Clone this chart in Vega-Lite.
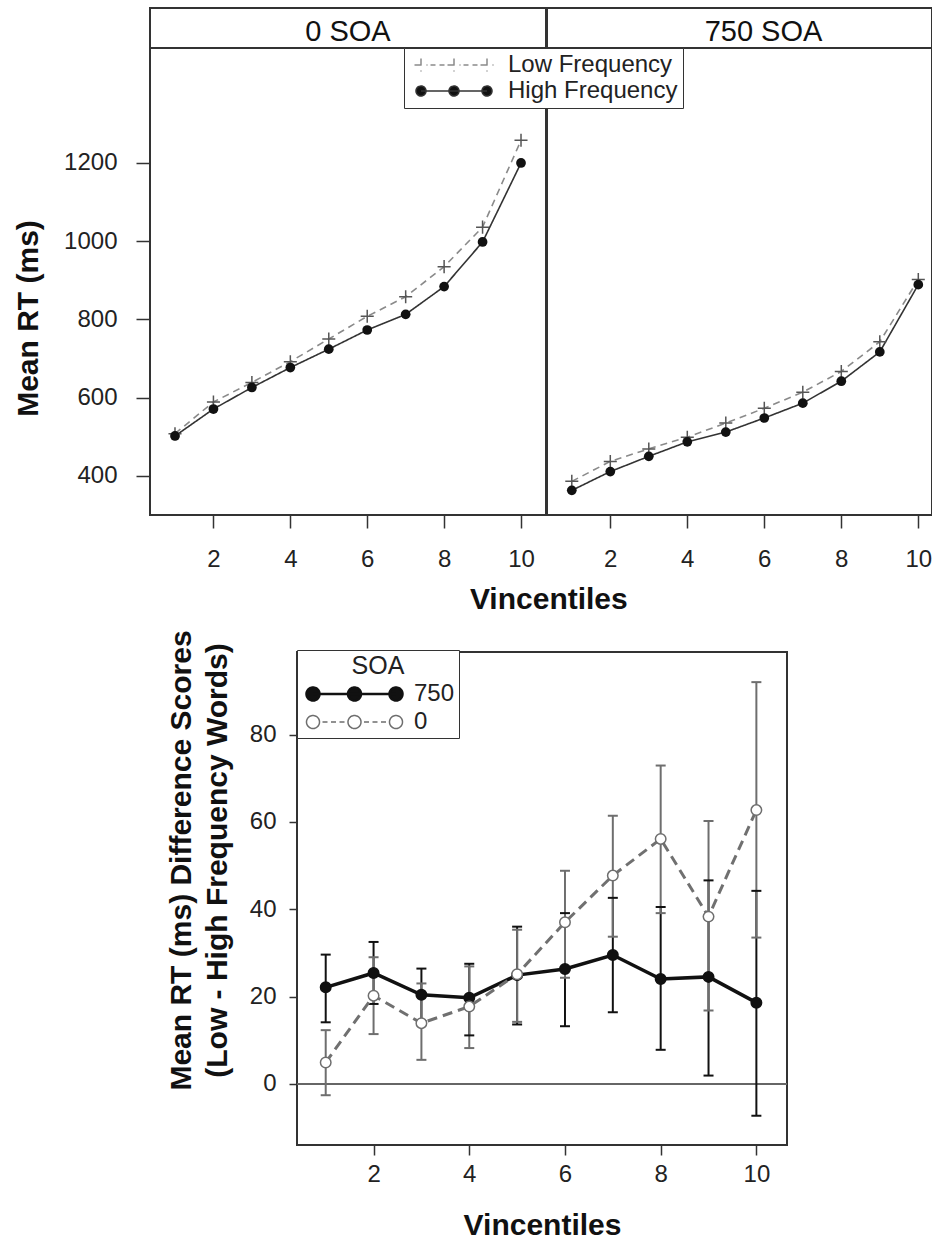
{
  "$schema": "https://vega.github.io/schema/vega-lite/v6.json",
  "background": "white",
  "padding": {"left": 12, "top": 7, "right": 0, "bottom": 0},
  "spacing": 13,
  "datasets": {
    "rt": [
      {"v": 1, "soa": "0 SOA", "freq": "Low Frequency", "rt": 508},
      {"v": 2, "soa": "0 SOA", "freq": "Low Frequency", "rt": 589},
      {"v": 3, "soa": "0 SOA", "freq": "Low Frequency", "rt": 639},
      {"v": 4, "soa": "0 SOA", "freq": "Low Frequency", "rt": 692},
      {"v": 5, "soa": "0 SOA", "freq": "Low Frequency", "rt": 750},
      {"v": 6, "soa": "0 SOA", "freq": "Low Frequency", "rt": 808},
      {"v": 7, "soa": "0 SOA", "freq": "Low Frequency", "rt": 858},
      {"v": 8, "soa": "0 SOA", "freq": "Low Frequency", "rt": 935},
      {"v": 9, "soa": "0 SOA", "freq": "Low Frequency", "rt": 1036},
      {"v": 10, "soa": "0 SOA", "freq": "Low Frequency", "rt": 1258},
      {"v": 1, "soa": "0 SOA", "freq": "High Frequency", "rt": 502},
      {"v": 2, "soa": "0 SOA", "freq": "High Frequency", "rt": 571},
      {"v": 3, "soa": "0 SOA", "freq": "High Frequency", "rt": 626},
      {"v": 4, "soa": "0 SOA", "freq": "High Frequency", "rt": 677},
      {"v": 5, "soa": "0 SOA", "freq": "High Frequency", "rt": 724},
      {"v": 6, "soa": "0 SOA", "freq": "High Frequency", "rt": 773},
      {"v": 7, "soa": "0 SOA", "freq": "High Frequency", "rt": 813},
      {"v": 8, "soa": "0 SOA", "freq": "High Frequency", "rt": 884},
      {"v": 9, "soa": "0 SOA", "freq": "High Frequency", "rt": 998},
      {"v": 10, "soa": "0 SOA", "freq": "High Frequency", "rt": 1200},
      {"v": 1, "soa": "750 SOA", "freq": "Low Frequency", "rt": 386},
      {"v": 2, "soa": "750 SOA", "freq": "Low Frequency", "rt": 437},
      {"v": 3, "soa": "750 SOA", "freq": "Low Frequency", "rt": 469},
      {"v": 4, "soa": "750 SOA", "freq": "Low Frequency", "rt": 499},
      {"v": 5, "soa": "750 SOA", "freq": "Low Frequency", "rt": 535},
      {"v": 6, "soa": "750 SOA", "freq": "Low Frequency", "rt": 573},
      {"v": 7, "soa": "750 SOA", "freq": "Low Frequency", "rt": 614},
      {"v": 8, "soa": "750 SOA", "freq": "Low Frequency", "rt": 667},
      {"v": 9, "soa": "750 SOA", "freq": "Low Frequency", "rt": 743},
      {"v": 10, "soa": "750 SOA", "freq": "Low Frequency", "rt": 902},
      {"v": 1, "soa": "750 SOA", "freq": "High Frequency", "rt": 363},
      {"v": 2, "soa": "750 SOA", "freq": "High Frequency", "rt": 411},
      {"v": 3, "soa": "750 SOA", "freq": "High Frequency", "rt": 450},
      {"v": 4, "soa": "750 SOA", "freq": "High Frequency", "rt": 487},
      {"v": 5, "soa": "750 SOA", "freq": "High Frequency", "rt": 512},
      {"v": 6, "soa": "750 SOA", "freq": "High Frequency", "rt": 548},
      {"v": 7, "soa": "750 SOA", "freq": "High Frequency", "rt": 586},
      {"v": 8, "soa": "750 SOA", "freq": "High Frequency", "rt": 642},
      {"v": 9, "soa": "750 SOA", "freq": "High Frequency", "rt": 717},
      {"v": 10, "soa": "750 SOA", "freq": "High Frequency", "rt": 889}
    ],
    "diff": [
      {"v": 1, "soa": "750", "m": 22.1, "lo": 14.1, "hi": 29.6},
      {"v": 2, "soa": "750", "m": 25.4, "lo": 18.3, "hi": 32.5},
      {"v": 3, "soa": "750", "m": 20.4, "lo": 14.4, "hi": 26.4},
      {"v": 4, "soa": "750", "m": 19.7, "lo": 11.1, "hi": 27.5},
      {"v": 5, "soa": "750", "m": 24.9, "lo": 13.6, "hi": 36.0},
      {"v": 6, "soa": "750", "m": 26.3, "lo": 13.2, "hi": 39.1},
      {"v": 7, "soa": "750", "m": 29.5, "lo": 16.4, "hi": 42.6},
      {"v": 8, "soa": "750", "m": 24.0, "lo": 7.8, "hi": 40.5},
      {"v": 9, "soa": "750", "m": 24.5, "lo": 1.9, "hi": 46.6},
      {"v": 10, "soa": "750", "m": 18.6, "lo": -7.3, "hi": 44.2},
      {"v": 1, "soa": "0", "m": 4.9, "lo": -2.6, "hi": 12.3},
      {"v": 2, "soa": "0", "m": 20.2, "lo": 11.4, "hi": 29.0},
      {"v": 3, "soa": "0", "m": 13.9, "lo": 5.5, "hi": 23.0},
      {"v": 4, "soa": "0", "m": 17.7, "lo": 8.2, "hi": 26.9},
      {"v": 5, "soa": "0", "m": 25.1, "lo": 14.2, "hi": 35.3},
      {"v": 6, "soa": "0", "m": 37.0, "lo": 24.3, "hi": 48.8},
      {"v": 7, "soa": "0", "m": 47.7, "lo": 33.7, "hi": 61.4},
      {"v": 8, "soa": "0", "m": 56.1, "lo": 39.1, "hi": 72.9},
      {"v": 9, "soa": "0", "m": 38.3, "lo": 16.8, "hi": 60.2},
      {"v": 10, "soa": "0", "m": 62.7, "lo": 33.5, "hi": 92.0}
    ]
  },
  "config": {
    "font": "Liberation Sans",
    "view": {"stroke": "#333", "strokeWidth": 2},
    "axis": {
      "domain": false, "grid": false, "tickColor": "#333", "tickWidth": 1.5,
      "labelFont": "Liberation Sans", "labelFontSize": 24, "labelColor": "#222",
      "titleFont": "Liberation Sans", "titleFontSize": 30, "titleFontWeight": "bold", "titleColor": "#111",
      "labelFlush": false, "labelOverlap": false
    },
    "legend": {"labelFont": "Liberation Sans", "titleFont": "Liberation Sans", "labelLimit": 400},
    "title": {"font": "Liberation Sans", "fontSize": 30, "fontWeight": "bold", "color": "#111"},
    "text": {"font": "Liberation Sans"}
  },
  "vconcat": [
    {
      "title": {"text": "Vincentiles", "orient": "bottom", "anchor": "middle", "frame": "bounds", "dx": 76, "offset": 13},
      "spacing": -4,
      "hconcat": [
        {
          "bounds": "flush",
          "spacing": 0,
          "vconcat": [
            {
              "width": 396, "height": 40,
              "view": {"stroke": null},
              "data": {"values": [{"label": "0 SOA"}]},
              "layer": [
                {
                  "mark": {"type": "rect", "fill": "white", "stroke": "#333", "strokeWidth": 2},
                  "encoding": {
                    "x": {"datum": 0, "type": "quantitative", "scale": {"domain": [0, 1], "nice": false, "zero": false}, "axis": null},
                    "x2": {"datum": 1},
                    "y": {"datum": 0, "type": "quantitative", "scale": {"domain": [0, 1], "nice": false, "zero": false}, "axis": null},
                    "y2": {"datum": 1}
                  }
                },
                {
                  "mark": {"type": "text", "fontSize": 29, "color": "#111", "baseline": "middle", "dy": 4},
                  "encoding": {"text": {"field": "label", "type": "nominal"}}
                }
              ]
            },
            {
              "width": 396, "height": 467,
              "data": {"name": "rt"},
              "transform": [{"filter": "datum.soa === '0 SOA'"}],
              "layer": [
                {
                  "mark": {"type": "line", "strokeWidth": 1.6},
                  "encoding": {
                    "x": {"field": "v", "type": "quantitative", "scale": {"domain": [0.35, 10.65], "nice": false, "zero": false},
                      "axis": {"values": [2, 4, 6, 8, 10], "title": null, "tickSize": 13, "labelPadding": 19}},
                    "y": {"field": "rt", "type": "quantitative", "scale": {"domain": [300, 1494], "nice": false, "zero": false},
                      "axis": {"values": [400, 600, 800, 1000, 1200], "format": "d", "title": "Mean RT (ms)", "tickSize": 14, "labelPadding": 19, "titlePadding": 20, "titleY": 270}},
                    "color": {"field": "freq", "type": "nominal",
                      "scale": {"domain": ["Low Frequency", "High Frequency"], "range": ["#8a8a8a", "#333333"]},
                      "legend": {
                        "orient": "none", "legendX": 254, "legendY": 40, "title": null, "direction": "vertical",
                        "padding": 5, "rowPadding": 2, "labelFontSize": 24, "labelOffset": 75, "labelColor": "#222", "labelLimit": 400,
                        "strokeColor": "#333", "fillColor": "white", "symbolSize": 400, "symbolStrokeWidth": 1.5,
                        "encode": {"symbols": {"update": {
                          "shape": {"signal": "datum.value === 'Low Frequency' ? 'M-0.65,0L0.65,0M0,-0.65L0,0.65M0.95,0L1.45,0M1.85,0L2.35,0M2.65,0L3.95,0M3.3,-0.65L3.3,0.65M4.25,0L4.75,0M5.15,0L5.65,0M5.95,0L7.25,0M6.6,-0.65L6.6,0.65' : 'M0,0L6.6,0M-0.5,0A0.5,0.5 0 1 0 0.5,0A0.5,0.5 0 1 0 -0.5,0ZM2.8,0A0.5,0.5 0 1 0 3.8,0A0.5,0.5 0 1 0 2.8,0ZM6.1,0A0.5,0.5 0 1 0 7.1,0A0.5,0.5 0 1 0 6.1,0Z'"},
                          "fill": {"signal": "datum.value === 'Low Frequency' ? 'transparent' : '#111'"},
                          "stroke": {"signal": "datum.value === 'Low Frequency' ? '#666' : '#333'"},
                          "strokeWidth": {"value": 1.5},
                          "strokeDash": {"value": [1, 0]},
                          "size": {"value": 400},
                          "opacity": {"value": 1}
                        }}}
                      }},
                    "strokeDash": {"field": "freq", "type": "nominal",
                      "scale": {"domain": ["Low Frequency", "High Frequency"], "range": [[7, 5], [1, 0]]}, "legend": null}
                  }
                },
                {
                  "transform": [{"filter": "datum.freq === 'Low Frequency'"}],
                  "mark": {"type": "point", "shape": "M-1,0L1,0M0,-1L0,1", "filled": false, "stroke": "#555", "strokeWidth": 1.5, "size": 170, "opacity": 1},
                  "encoding": {"x": {"field": "v", "type": "quantitative"}, "y": {"field": "rt", "type": "quantitative"}}
                },
                {
                  "transform": [{"filter": "datum.freq === 'High Frequency'"}],
                  "mark": {"type": "point", "shape": "circle", "filled": true, "fill": "#111", "size": 95, "opacity": 1},
                  "encoding": {"x": {"field": "v", "type": "quantitative"}, "y": {"field": "rt", "type": "quantitative"}}
                }
              ]
            }
          ]
        },
        {
          "bounds": "flush",
          "spacing": 0,
          "vconcat": [
            {
              "width": 385, "height": 40,
              "view": {"stroke": null},
              "data": {"values": [{"label": "750 SOA"}]},
              "layer": [
                {
                  "mark": {"type": "rect", "fill": "white", "stroke": "#333", "strokeWidth": 2},
                  "encoding": {
                    "x": {"datum": 0, "type": "quantitative", "scale": {"domain": [0, 1], "nice": false, "zero": false}, "axis": null},
                    "x2": {"datum": 1},
                    "y": {"datum": 0, "type": "quantitative", "scale": {"domain": [0, 1], "nice": false, "zero": false}, "axis": null},
                    "y2": {"datum": 1}
                  }
                },
                {
                  "mark": {"type": "text", "fontSize": 29, "color": "#111", "baseline": "middle", "dy": 4, "dx": 24},
                  "encoding": {"text": {"field": "label", "type": "nominal"}}
                }
              ]
            },
            {
              "width": 385, "height": 467,
              "data": {"name": "rt"},
              "transform": [{"filter": "datum.soa === '750 SOA'"}],
              "layer": [
                {
                  "mark": {"type": "line", "strokeWidth": 1.6},
                  "encoding": {
                    "x": {"field": "v", "type": "quantitative", "scale": {"domain": [0.356, 10.356], "nice": false, "zero": false},
                      "axis": {"values": [2, 4, 6, 8, 10], "title": null, "tickSize": 13, "labelPadding": 19}},
                    "y": {"field": "rt", "type": "quantitative", "scale": {"domain": [300, 1494], "nice": false, "zero": false}, "axis": null},
                    "color": {"field": "freq", "type": "nominal",
                      "scale": {"domain": ["Low Frequency", "High Frequency"], "range": ["#8a8a8a", "#333333"]},
                      "legend": {
                        "orient": "none", "legendX": 254, "legendY": 40, "title": null, "direction": "vertical",
                        "padding": 5, "rowPadding": 2, "labelFontSize": 24, "labelOffset": 75, "labelColor": "#222", "labelLimit": 400,
                        "strokeColor": "#333", "fillColor": "white", "symbolSize": 400, "symbolStrokeWidth": 1.5,
                        "encode": {"symbols": {"update": {
                          "shape": {"signal": "datum.value === 'Low Frequency' ? 'M-0.65,0L0.65,0M0,-0.65L0,0.65M0.95,0L1.45,0M1.85,0L2.35,0M2.65,0L3.95,0M3.3,-0.65L3.3,0.65M4.25,0L4.75,0M5.15,0L5.65,0M5.95,0L7.25,0M6.6,-0.65L6.6,0.65' : 'M0,0L6.6,0M-0.5,0A0.5,0.5 0 1 0 0.5,0A0.5,0.5 0 1 0 -0.5,0ZM2.8,0A0.5,0.5 0 1 0 3.8,0A0.5,0.5 0 1 0 2.8,0ZM6.1,0A0.5,0.5 0 1 0 7.1,0A0.5,0.5 0 1 0 6.1,0Z'"},
                          "fill": {"signal": "datum.value === 'Low Frequency' ? 'transparent' : '#111'"},
                          "stroke": {"signal": "datum.value === 'Low Frequency' ? '#666' : '#333'"},
                          "strokeWidth": {"value": 1.5},
                          "strokeDash": {"value": [1, 0]},
                          "size": {"value": 400},
                          "opacity": {"value": 1}
                        }}}
                      }},
                    "strokeDash": {"field": "freq", "type": "nominal",
                      "scale": {"domain": ["Low Frequency", "High Frequency"], "range": [[7, 5], [1, 0]]}, "legend": null}
                  }
                },
                {
                  "transform": [{"filter": "datum.freq === 'Low Frequency'"}],
                  "mark": {"type": "point", "shape": "M-1,0L1,0M0,-1L0,1", "filled": false, "stroke": "#555", "strokeWidth": 1.5, "size": 170, "opacity": 1},
                  "encoding": {"x": {"field": "v", "type": "quantitative"}, "y": {"field": "rt", "type": "quantitative"}}
                },
                {
                  "transform": [{"filter": "datum.freq === 'High Frequency'"}],
                  "mark": {"type": "point", "shape": "circle", "filled": true, "fill": "#111", "size": 95, "opacity": 1},
                  "encoding": {"x": {"field": "v", "type": "quantitative"}, "y": {"field": "rt", "type": "quantitative"}}
                }
              ]
            }
          ]
        }
      ]
    },
    {
      "spacing": 0,
      "hconcat": [
        {
          "width": 15, "height": 10,
          "data": {"values": [{"a": 1}]},
          "mark": {"type": "point", "opacity": 0},
          "view": {"stroke": null, "fill": "white"}
        },
        {
          "width": 490, "height": 493,
          "data": {"name": "diff"},
          "layer": [
            {
              "mark": {"type": "rule", "color": "#666", "strokeWidth": 1.5},
              "encoding": {"y": {"datum": 0, "type": "quantitative", "scale": {"domain": [-14, 98.9], "nice": false, "zero": false},
                "axis": {"values": [0, 20, 40, 60, 80], "title": ["Mean RT (ms) Difference Scores", "(Low - High Frequency Words)"], "tickSize": 8, "labelPadding": 13, "titlePadding": 17, "titleLineHeight": 36, "titleY": 208}}}
            },
            {
              "mark": {"type": "rule", "strokeWidth": 2},
              "encoding": {
                "x": {"field": "v", "type": "quantitative", "scale": {"domain": [0.4, 10.64], "nice": false, "zero": false},
                  "axis": {"values": [2, 4, 6, 8, 10], "title": "Vincentiles", "tickSize": 10, "labelPadding": 7, "titlePadding": 24}},
                "y": {"field": "lo", "type": "quantitative"},
                "y2": {"field": "hi"},
                "stroke": {"field": "soa", "type": "nominal", "scale": {"domain": ["750", "0"], "range": ["#111111", "#6e6e6e"]},
                  "legend": {
                    "orient": "none", "legendX": 147, "legendY": 642, "title": "SOA", "titleAnchor": "middle", "titleFontSize": 25,
                    "titleFontWeight": "normal", "titleColor": "#222", "titlePadding": 3, "padding": 4, "rowPadding": 4,
                    "labelFontSize": 24, "labelOffset": 89, "labelColor": "#222", "symbolSize": 400, "symbolStrokeWidth": 2,
                    "strokeColor": "#333", "fillColor": "white",
                    "encode": {"symbols": {"update": {
                      "shape": {"signal": "datum.value === '750' ? 'M0,0L8.3,0M-0.65,0A0.65,0.65 0 1 0 0.65,0A0.65,0.65 0 1 0 -0.65,0ZM3.5,0A0.65,0.65 0 1 0 4.8,0A0.65,0.65 0 1 0 3.5,0ZM7.65,0A0.65,0.65 0 1 0 8.95,0A0.65,0.65 0 1 0 7.65,0Z' : 'M-0.65,0A0.65,0.65 0 1 0 0.65,0A0.65,0.65 0 1 0 -0.65,0ZM3.5,0A0.65,0.65 0 1 0 4.8,0A0.65,0.65 0 1 0 3.5,0ZM7.65,0A0.65,0.65 0 1 0 8.95,0A0.65,0.65 0 1 0 7.65,0ZM0.95,0L1.45,0M1.8,0L2.3,0M2.65,0L3.15,0M5.1,0L5.6,0M5.95,0L6.45,0M6.8,0L7.3,0'"},
                      "fill": {"signal": "datum.value === '750' ? '#111' : 'white'"},
                      "stroke": {"signal": "datum.value === '750' ? '#111' : '#888'"},
                      "strokeWidth": {"signal": "datum.value === '750' ? 2.5 : 1.5"},
                      "strokeDash": {"value": [1, 0]},
                      "size": {"value": 400},
                      "opacity": {"value": 1}
                    }}}
                  }}
              }
            },
            {
              "mark": {"type": "point", "shape": "M-1,0L1,0", "filled": false, "size": 100, "strokeWidth": 2, "opacity": 1},
              "encoding": {"x": {"field": "v", "type": "quantitative"}, "y": {"field": "lo", "type": "quantitative"}, "stroke": {"field": "soa", "type": "nominal"}}
            },
            {
              "mark": {"type": "point", "shape": "M-1,0L1,0", "filled": false, "size": 100, "strokeWidth": 2, "opacity": 1},
              "encoding": {"x": {"field": "v", "type": "quantitative"}, "y": {"field": "hi", "type": "quantitative"}, "stroke": {"field": "soa", "type": "nominal"}}
            },
            {
              "transform": [{"filter": "datum.soa === '750'"}],
              "mark": {"type": "line", "color": "#111", "strokeWidth": 3.5},
              "encoding": {"x": {"field": "v", "type": "quantitative"}, "y": {"field": "m", "type": "quantitative"}}
            },
            {
              "transform": [{"filter": "datum.soa === '0'"}],
              "mark": {"type": "line", "color": "#707070", "strokeWidth": 3, "strokeDash": [10, 6]},
              "encoding": {"x": {"field": "v", "type": "quantitative"}, "y": {"field": "m", "type": "quantitative"}}
            },
            {
              "mark": {"type": "point", "shape": "circle", "filled": true, "size": 110, "strokeWidth": 1.5, "opacity": 1},
              "encoding": {
                "x": {"field": "v", "type": "quantitative"},
                "y": {"field": "m", "type": "quantitative"},
                "fill": {"field": "soa", "type": "nominal", "scale": {"domain": ["750", "0"], "range": ["#111111", "#ffffff"]}, "legend": null},
                "stroke": {"field": "soa", "type": "nominal"}
              }
            }
          ]
        }
      ]
    }
  ]
}
